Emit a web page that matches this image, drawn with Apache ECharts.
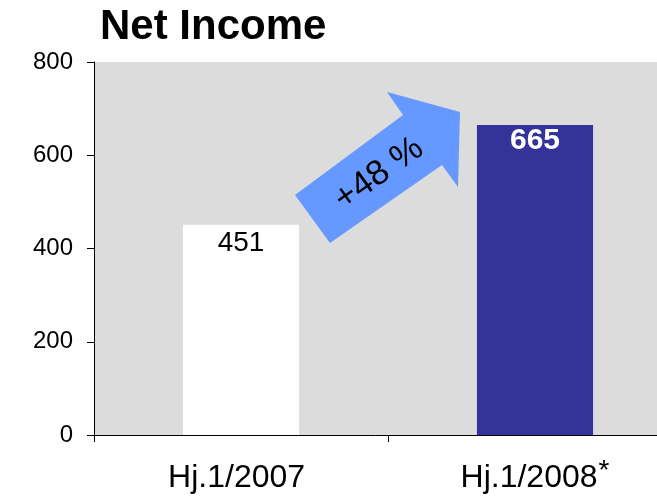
<!DOCTYPE html>
<html>
<head>
<meta charset="utf-8">
<script src="https://cdn.jsdelivr.net/npm/echarts@6/dist/echarts.min.js"></script>
<style>
html,body{margin:0;padding:0;background:#fff;}
#chart{width:657px;height:496px;}
</style>
</head>
<body>
<div id="chart"></div>
<script>
var categories = ['Hj.1/2007', 'Hj.1/2008'];
var categoryMarks = ['', '*'];
var values = [451, 665];
var barColors = ['#ffffff', '#333399'];
var labelColors = ['#000000', '#ffffff'];
var yTicks = [0, 200, 400, 600, 800];
var growthText = '+48 %';

var chart = echarts.init(document.getElementById('chart'));

var option = {
  animation: false,
  title: {
    text: 'Net Income',
    left: 95,
    top: 1,
    textStyle: {
      fontFamily: 'Liberation Sans',
      fontSize: 42,
      fontWeight: 'bold',
      color: '#000'
    }
  },
  grid: {
    left: 94,
    top: 62,
    width: 588,
    height: 373,
    outerBoundsMode: 'none',
    containLabel: false,
    show: true,
    backgroundColor: '#dcdcdc',
    borderWidth: 0
  },
  xAxis: {
    type: 'category',
    data: categories,
    axisLine: { lineStyle: { color: '#000', width: 1 } },
    axisTick: { show: true, length: 7, lineStyle: { color: '#000' } },
    axisLabel: {
      margin: 25,
      color: '#000',
      formatter: function (v, i) {
        return '{main|' + v + '}{sup|' + (categoryMarks[i] || ' ') + '}';
      },
      rich: {
        main: { fontSize: 32, fontFamily: 'Liberation Sans', color: '#000', lineHeight: 36 },
        sup: { fontSize: 28, fontFamily: 'Liberation Sans', color: '#000', lineHeight: 36, padding: [0, 0, 14, 1] }
      }
    },
    splitLine: { show: false }
  },
  yAxis: {
    type: 'value',
    min: yTicks[0],
    max: yTicks[yTicks.length - 1],
    interval: 200,
    axisLine: { show: true, lineStyle: { color: '#000', width: 1 } },
    axisTick: { show: true, length: 7, lineStyle: { color: '#000' } },
    axisLabel: {
      margin: 21,
      fontFamily: 'Liberation Sans',
      fontSize: 24,
      color: '#000'
    },
    splitLine: { show: false }
  },
  series: [
    {
      type: 'bar',
      barWidth: '39.5%',
      data: values.map(function (v, i) {
        return {
          value: v,
          itemStyle: { color: barColors[i] },
          label: {
            color: labelColors[i],
            fontWeight: i === 1 ? 'bold' : 'normal',
            fontSize: i === 1 ? 30 : 28,
            distance: i === 1 ? 1 : 5
          }
        };
      }),
      label: {
        show: true,
        position: 'insideTop',
        fontFamily: 'Liberation Sans'
      }
    }
  ],
  graphic: [
    {
      type: 'polygon',
      shape: {
        points: [[295, 195], [403, 115], [387, 92], [460, 112], [458, 187], [442, 165], [330, 243]]
      },
      style: { fill: '#6699ff' },
      z: 10
    },
    {
      type: 'text',
      x: 379,
      y: 174,
      rotation: 0.62,
      style: {
        text: growthText,
        fontFamily: 'Liberation Sans',
        fontSize: 35,
        fill: '#000',
        align: 'center',
        verticalAlign: 'middle'
      },
      z: 11
    }
  ]
};

chart.setOption(option);
window.onresize = function () { chart.resize(); };
</script>
</body>
</html>
